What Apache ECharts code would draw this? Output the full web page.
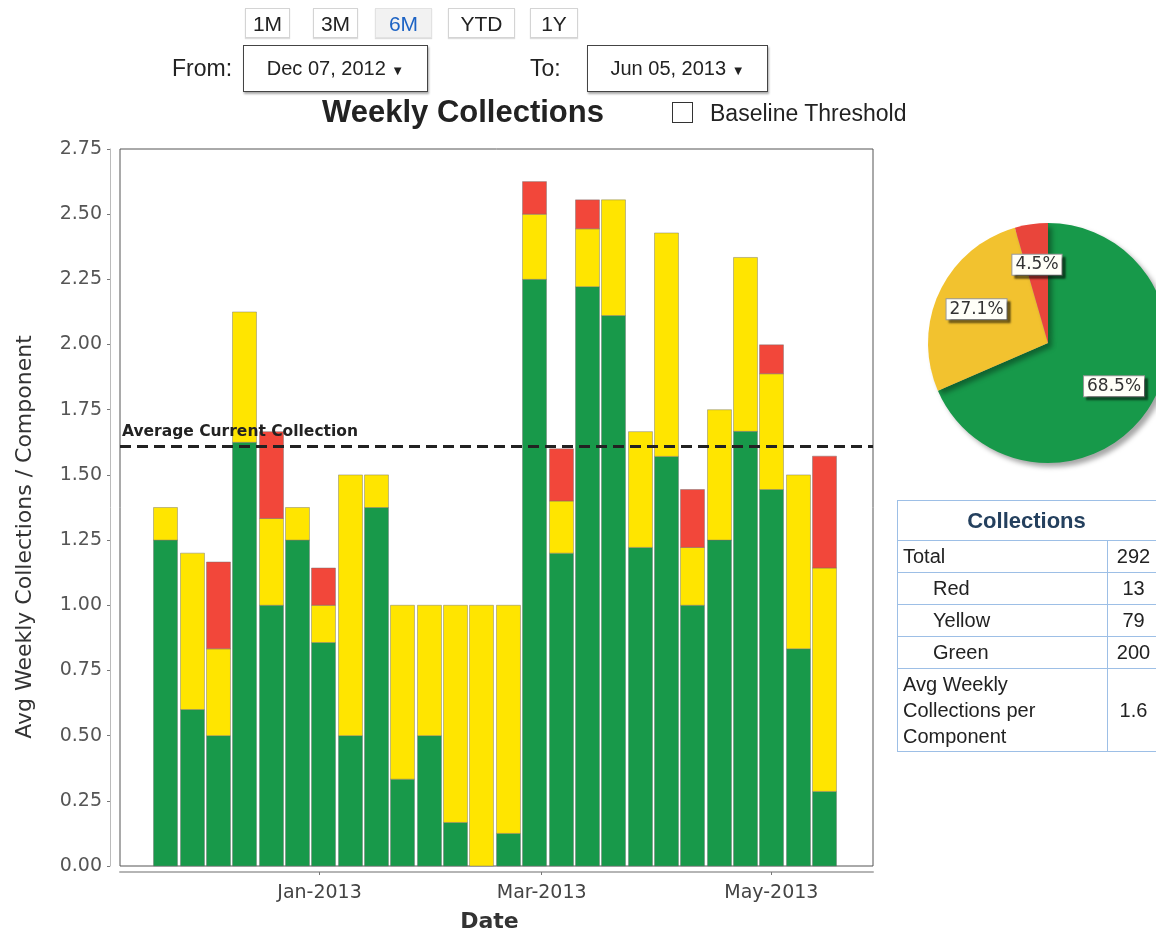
<!DOCTYPE html>
<html>
<head>
<meta charset="utf-8">
<script src="https://cdn.jsdelivr.net/npm/echarts@6/dist/echarts.min.js"></script>
<style>
  html, body { margin: 0; padding: 0; background: #fff; overflow: hidden; }
  #wrap { position: relative; width: 1156px; height: 933px; overflow: hidden; font-family: "Liberation Sans", Arial, sans-serif; color: #222; }
  #chart { position: absolute; left: 0; top: 0; width: 1156px; height: 933px; }
  .btn { position: absolute; top: 8px; height: 30px; line-height: 30px; text-align: center; font-size: 21px; border: 1px solid #d4d4d4; box-shadow: 0 1px 1px #ddd; background: #fff; color: #222; box-sizing: border-box; }
  .btn.sel { color: #1d63c4; background: #f2f2f2; border-color: #e2e2e2; }
  .lbl { position: absolute; font-size: 23px; }
  .date { position: absolute; top: 45px; height: 47px; line-height: 45px; box-sizing: border-box; border: 1.5px solid #444; box-shadow: 1px 2px 2px #aaa; font-size: 20px; text-align: center; background: #fff; }
  #chk { position: absolute; left: 672px; top: 102px; width: 21px; height: 21px; border: 1.5px solid #333; box-sizing: border-box; background: #fff; }
  #chkText { position: absolute; left: 710px; top: 100px; font-size: 23px; color: #222; }
  table.coll { position: absolute; left: 897px; top: 500px; width: 262px; border-collapse: collapse; font-size: 20px; color: #222; table-layout: fixed; }
  table.coll td, table.coll th { border: 1px solid #9dbfe6; padding: 0; }
  table.coll th { height: 39px; font-size: 22px; font-weight: bold; color: #24405e; text-align: center; padding-right: 4px; }
  table.coll td.k { padding-left: 5px; height: 31px; }
  table.coll td.k.ind { padding-left: 35px; }
  table.coll td.v { text-align: center; }
  table.coll td.multi { line-height: 26px; padding-top: 2px; padding-bottom: 2px; }
</style>
</head>
<body>
<div id="wrap">
  <div id="chart"></div>
  <div id="controls"></div>
  <div id="chk"></div>
  <div id="chkText">Baseline Threshold</div>
  <table class="coll" id="tbl"></table>
</div>
<script>
// ---------------- data ----------------
var weeks = ['2012-11-21','2012-11-28','2012-12-05','2012-12-12','2012-12-19','2012-12-26',
             '2013-01-02','2013-01-09','2013-01-16','2013-01-23','2013-01-30',
             '2013-02-06','2013-02-13','2013-02-20','2013-02-27',
             '2013-03-06','2013-03-13','2013-03-20','2013-03-27',
             '2013-04-03','2013-04-10','2013-04-17','2013-04-24',
             '2013-05-01','2013-05-08','2013-05-15'];
var greenValues  = [1.25, 0.6, 0.5, 1.625, 1.0, 1.25, 0.857, 0.5, 1.375, 0.333, 0.5, 0.167, 0, 0.125,
                    2.25, 1.2, 2.222, 2.111, 1.222, 1.571, 1.0, 1.25, 1.667, 1.444, 0.833, 0.286];
var yellowValues = [0.125, 0.6, 0.333, 0.5, 0.333, 0.125, 0.143, 1.0, 0.125, 0.667, 0.5, 0.833, 1.0, 0.875,
                    0.25, 0.2, 0.222, 0.444, 0.444, 0.857, 0.222, 0.5, 0.667, 0.444, 0.667, 0.857];
var redValues    = [0, 0, 0.333, 0, 0.333, 0, 0.143, 0, 0, 0, 0, 0, 0, 0,
                    0.125, 0.2, 0.111, 0, 0, 0, 0.222, 0, 0, 0.111, 0, 0.429];
var averageCollection = 1.615;
var averageLabel = 'Average Current Collection';

var axisMinDate = '2012-11-09';
var axisMaxDate = '2013-05-28';
var xTickDates  = ['2013-01-01', '2013-03-01', '2013-05-01'];
var xTickLabels = ['Jan-2013', 'Mar-2013', 'May-2013'];
var yMin = 0, yMax = 2.75, yStep = 0.25;

var pieNames  = ['Green', 'Yellow', 'Red'];
var pieValues = [200, 79, 13];

var rangeButtons = ['1M', '3M', '6M', 'YTD', '1Y'];
var selectedRange = '6M';
var fromDate = 'Dec 07, 2012';
var toDate = 'Jun 05, 2013';

var tableTitle = 'Collections';
var tableRows = [
  ['Total', 292, false],
  ['Red', 13, true],
  ['Yellow', 79, true],
  ['Green', 200, true],
  ['Avg Weekly<br>Collections per<br>Component', 1.6, false]
];

// ---------------- UI (controls, table) ----------------
var btnPos = [[245, 45], [313, 45], [375, 57], [448, 67], [530, 48]];
var ctl = document.getElementById('controls');
var html = '';
rangeButtons.forEach(function (b, i) {
  html += '<div class="btn' + (b === selectedRange ? ' sel' : '') + '" style="left:' + btnPos[i][0] + 'px;width:' + btnPos[i][1] + 'px">' + b + '</div>';
});
html += '<div class="lbl" style="left:172px;top:55px">From:</div>';
html += '<div class="date" style="left:243px;width:185px">' + fromDate + ' <span style="font-size:13px">&#9660;</span></div>';
html += '<div class="lbl" style="left:530px;top:55px">To:</div>';
html += '<div class="date" style="left:587px;width:181px">' + toDate + ' <span style="font-size:13px">&#9660;</span></div>';
ctl.innerHTML = html;

var t = '<colgroup><col style="width:210px"><col style="width:52px"></colgroup>';
t += '<tr><th colspan="2">' + tableTitle + '</th></tr>';
tableRows.forEach(function (r) {
  var multi = r[0].indexOf('<br>') >= 0;
  t += '<tr><td class="k' + (r[2] ? ' ind' : '') + (multi ? ' multi' : '') + '">' + r[0] + '</td><td class="v">' + r[1] + '</td></tr>';
});
document.getElementById('tbl').innerHTML = t;

// ---------------- chart ----------------
var parse = function (s) { return echarts.number.parseDate(s).getTime(); };
var tickTimes = xTickDates.map(parse);
var pieTotal = pieValues.reduce(function (a, b) { return a + b; }, 0);
var WEEK_MS = 7 * 24 * 3600 * 1000;

// stacked segments: [time, base, height]
var stackOrder = [greenValues, yellowValues, redValues];
function stackedData(level) {
  return weeks.map(function (w, i) {
    var base = 0;
    for (var k = 0; k < level; k++) base += stackOrder[k][i];
    return [parse(w), base, stackOrder[level][i]];
  });
}

function makeRender(color) {
  return function (params, api) {
    var h = api.value(2);
    if (!h) return null;
    var x = api.value(0), b = api.value(1);
    var p0 = api.coord([x, b]);
    var p1 = api.coord([x, b + h]);
    var w = api.size([WEEK_MS, 0])[0] * 0.91;
    return {
      type: 'rect',
      shape: { x: Math.round(p0[0] - w / 2) + 0.5, y: p1[1], width: w, height: p0[1] - p1[1] },
      style: { fill: color, stroke: 'rgba(110,110,110,0.55)', lineWidth: 0.8 }
    };
  };
}

var GREEN = '#18994a', YELLOW = '#ffe500', RED = '#f2473a';
function barSeries(name, level, color) {
  return {
    type: 'custom', name: name, silent: true,
    renderItem: makeRender(color),
    encode: { x: 0, y: [1, 2] },
    data: stackedData(level)
  };
}

var chart = echarts.init(document.getElementById('chart'), null, { renderer: 'canvas' });
chart.setOption({
  animation: false,
  title: {
    text: 'Weekly Collections', left: 317, top: 93,
    textStyle: { fontFamily: 'Liberation Sans', fontWeight: 'bold', fontSize: 31, color: '#222' }
  },
  grid: { left: 120, right: 283, top: 149, bottom: 67, show: true, borderColor: '#555', borderWidth: 1,
          backgroundColor: '#fff', containLabel: false, outerBoundsMode: 'none' },
  xAxis: {
    type: 'value',
    min: parse(axisMinDate), max: parse(axisMaxDate),
    offset: 6,
    name: 'Date', nameLocation: 'middle', nameGap: 39,
    nameTextStyle: { fontFamily: 'DejaVu Sans', fontWeight: 'bold', fontSize: 22, color: '#333', padding: [0, 14, 0, 0] },
    axisLine: { show: true, onZero: false, lineStyle: { color: '#b5b5b5', width: 2 } },
    axisTick: { show: true, customValues: tickTimes, length: 3, lineStyle: { color: '#777' } },
    axisLabel: {
      customValues: tickTimes,
      fontFamily: 'DejaVu Sans', fontSize: 19, color: '#444', margin: 12,
      formatter: function (v) { var k = tickTimes.indexOf(v); return k >= 0 ? xTickLabels[k] : ''; }
    },
    splitLine: { show: false }
  },
  yAxis: {
    type: 'value', min: yMin, max: yMax, interval: yStep,
    offset: 10,
    axisLine: { show: true, lineStyle: { color: '#bbb', width: 1 } },
    axisTick: { show: true, length: 3, lineStyle: { color: '#777' } },
    axisLabel: { fontFamily: 'DejaVu Sans', fontSize: 19, color: '#555', margin: 8,
                 formatter: function (v) { return v.toFixed(2); } },
    splitLine: { show: false }
  },
  graphic: [{
    type: 'text', x: 25, y: 537, rotation: Math.PI / 2,
    style: { text: 'Avg Weekly Collections / Component', fontFamily: 'DejaVu Sans', fontSize: 22, fill: '#333',
             align: 'center', verticalAlign: 'middle' },
    silent: true
  }],
  series: [
    barSeries('Green', 0, GREEN),
    barSeries('Yellow', 1, YELLOW),
    barSeries('Red', 2, RED),
    {
      type: 'line', name: 'Average', data: [], silent: true, z: 4,
      markLine: {
        silent: true, symbol: 'none',
        lineStyle: { color: '#222', type: [11, 6], width: 3 },
        label: { show: true, position: 'insideStartTop', formatter: averageLabel, distance: [2, 6],
                 fontFamily: 'DejaVu Sans', fontWeight: 'bold', fontSize: 15.5, color: '#222' },
        data: [{ yAxis: averageCollection }]
      }
    },
    {
      type: 'pie', center: [1048, 343], radius: 120, silent: true,
      label: { show: false }, labelLine: { show: false },
      itemStyle: { shadowBlur: 5, shadowOffsetX: 4, shadowOffsetY: 4, shadowColor: 'rgba(0,0,0,0.35)' },
      data: pieNames.map(function (n, i) { return { name: n, value: pieValues[i], itemStyle: { color: ['#17994a', '#f2c22f', '#e9453b'][i] } }; })
    },
    {
      type: 'pie', center: [1048, 343], radius: 152, silent: true, z: 5,
      itemStyle: { color: 'rgba(0,0,0,0)' },
      label: {
        show: true, position: 'inside',
        formatter: function (p) { return (p.value / pieTotal * 100).toFixed(1) + '%'; },
        fontFamily: 'DejaVu Sans', fontSize: 17, color: '#333',
        backgroundColor: '#fffff8', borderColor: '#999', borderWidth: 1, padding: [2, 3, 1, 3],
        shadowColor: 'rgba(0,0,0,0.45)', shadowBlur: 2, shadowOffsetX: 3, shadowOffsetY: 3
      },
      labelLine: { show: false },
      data: pieNames.map(function (n, i) { return { name: n, value: pieValues[i] }; })
    }
  ]
});
</script>
</body>
</html>
